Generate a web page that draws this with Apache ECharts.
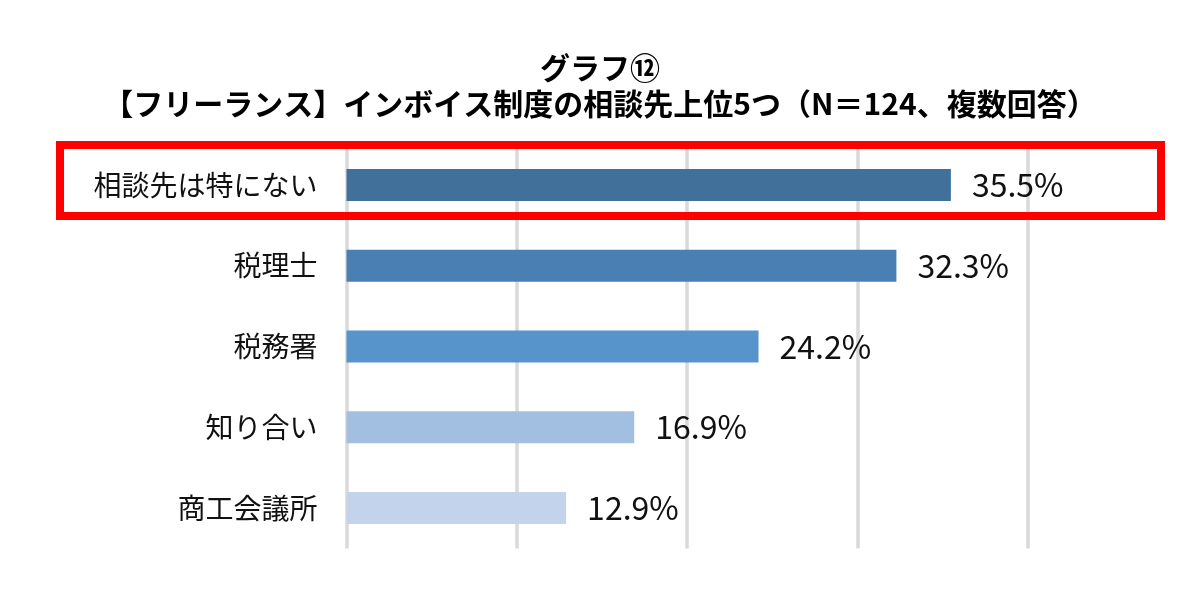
<!DOCTYPE html>
<html>
<head>
<meta charset="utf-8">
<script src="https://cdn.jsdelivr.net/npm/echarts@6/dist/echarts.min.js"></script>
<style>
html,body{margin:0;padding:0;background:#fff;}
#chart{width:1200px;height:600px;}
</style>
</head>
<body>
<div id="chart"></div>
<script>
const titleLines = ['グラフ⑫', '【フリーランス】インボイス制度の相談先上位5つ（N＝124、複数回答）'];
const categories = ['相談先は特にない', '税理士', '税務署', '知り合い', '商工会議所'];
const values = [35.5, 32.3, 24.2, 16.9, 12.9];
const barColors = ['#41709a', '#4a7fb4', '#5694cb', '#a2bfe1', '#c3d3ec'];
const xTicks = [0, 10, 20, 30, 40];

const chart = echarts.init(document.getElementById('chart'), null, {renderer: 'canvas'});
const FONT = '"Noto Sans CJK JP", "Noto Sans", sans-serif';
chart.setOption({
  backgroundColor: '#ffffff',
  animation: false,
  title: {
    text: titleLines.join('\n'),
    left: 'center',
    top: 45,
    textStyle: {
      fontFamily: FONT,
      fontWeight: 'bold',
      fontSize: 30,
      lineHeight: 36,
      color: '#000000'
    }
  },
  grid: {
    left: 346.5,
    top: 144.5,
    width: 681,
    height: 404,
    containLabel: false
  },
  xAxis: {
    type: 'value',
    min: xTicks[0],
    max: xTicks[xTicks.length - 1],
    interval: xTicks[1] - xTicks[0],
    axisLabel: {show: false},
    axisLine: {show: false},
    axisTick: {show: false},
    splitLine: {show: true, lineStyle: {color: '#d9d9d9', width: 3.5}}
  },
  yAxis: {
    type: 'category',
    data: categories,
    inverse: true,
    axisLine: {show: false},
    axisTick: {show: false},
    axisLabel: {
      margin: 29,
      fontFamily: FONT,
      fontSize: 28,
      color: '#111111'
    }
  },
  series: [{
    type: 'bar',
    barWidth: 32,
    data: values.map((v, i) => ({value: v, itemStyle: {color: barColors[i]}})),
    label: {
      show: true,
      position: 'right',
      distance: 21,
      fontFamily: FONT,
      fontSize: 32,
      color: '#111111',
      formatter: p => p.value.toFixed(1) + '%'
    }
  }],
  graphic: [{
    type: 'rect',
    shape: {x: 60, y: 145, width: 1101, height: 71},
    style: {fill: 'none', stroke: '#ff0000', lineWidth: 8},
    z: 100
  }]
});
</script>
</body>
</html>
